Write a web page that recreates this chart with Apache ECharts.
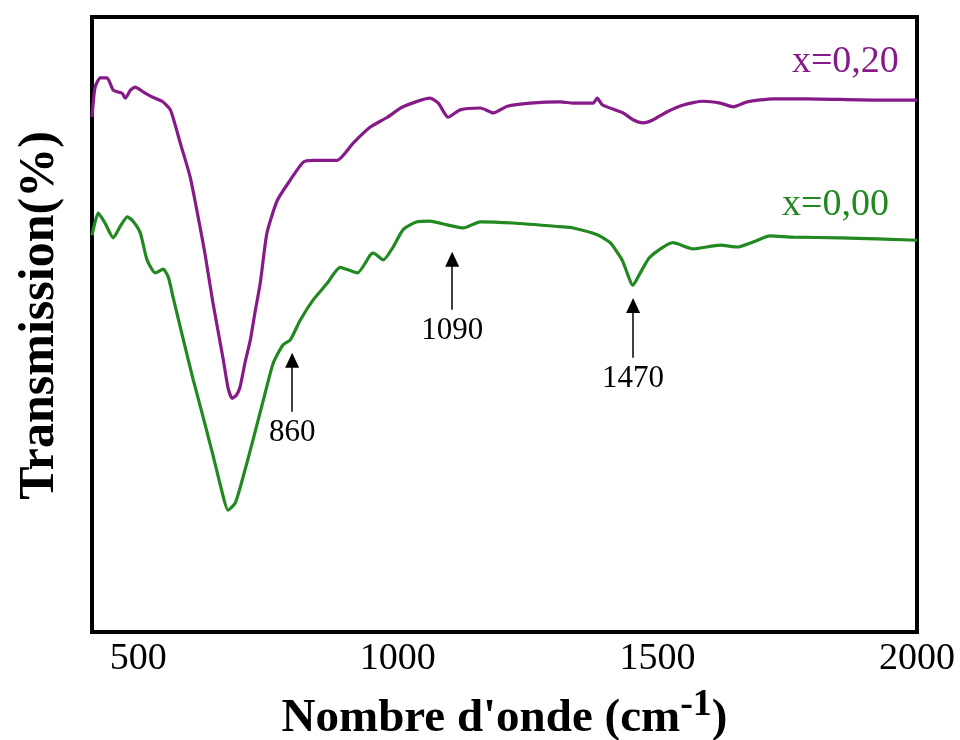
<!DOCTYPE html>
<html>
<head>
<meta charset="utf-8">
<script src="https://cdn.jsdelivr.net/npm/echarts@6/dist/echarts.min.js"></script>
<style>html,body{margin:0;padding:0;background:#fff}#c{width:960px;height:740px}</style>
</head>
<body>
<div id="c"></div>
<script>
// x = 0,20 sample (purple)
const wn020 = [411,417,427,440,452,469,475,485,494,510,527,546,562,581,600,619,629,644,664,673,681,689,696,706,716,725,735,748,768,793,818,837,883,914,947,980,1010,1062,1078,1097,1120,1159,1184,1211,1255,1313,1338,1376,1384,1394,1434,1453,1473,1492,1519,1550,1588,1621,1646,1673,1723,1788,1915,2000];
const tr020 = [83.7,88.6,90.1,90.1,88.1,87.6,86.8,88.1,88.6,87.8,87.0,86.3,84.9,79.5,74.0,65.9,61.3,53.5,44.2,39.7,38.0,38.5,39.8,43.9,47.5,52.0,56.7,64.9,70.2,73.5,76.4,76.7,76.7,79.5,82.1,83.7,85.4,86.8,86.0,83.7,84.9,85.2,84.4,85.5,86.0,86.2,86.0,86.0,86.8,85.7,84.4,83.3,82.8,83.3,84.6,85.7,86.3,86.0,85.4,86.2,86.7,86.7,86.5,86.5];
// x = 0,00 sample (green)
const wn000 = [411,423,436,452,465,479,490,504,517,533,548,558,567,587,606,623,643,662,673,687,702,721,741,760,779,793,812,837,864,889,922,947,953,972,991,1010,1037,1062,1095,1126,1159,1222,1313,1338,1384,1409,1432,1453,1467,1486,1530,1569,1621,1654,1684,1717,1761,1852,2000];
const tr000 = [64.5,68.1,66.5,64.1,65.9,67.5,66.8,64.9,60.5,58.4,59.0,57.7,54.5,47.5,41.0,35.6,29.1,22.6,19.8,21.0,25.2,31.2,37.7,43.7,46.7,47.5,50.7,54.0,56.7,59.3,58.4,61.3,61.6,60.5,62.6,65.4,66.7,66.8,66.2,65.7,66.7,66.5,65.9,65.7,64.6,63.3,60.5,56.4,58.4,61.0,63.3,62.3,62.9,62.6,63.4,64.4,64.2,64.1,63.7];
// x-axis tick labels
const xTicks = [500, 1000, 1500, 2000];
// peak annotations: label, wavenumber position, arrow base and tip (transmission units)
const annLabels = ['860', '1090', '1470'];
const annX = [796.5, 1104.7, 1453.2];
const annBase = [35.8, 52.4, 44.6];
const annTip = [44.2, 60.6, 53.1];
// series names and label anchor positions (data units)
const seriesNames = ['x=0,20', 'x=0,00'];
const nameX = [1862, 1843];
const nameY = [92.6, 69.4];

const purple = '#861a88';
const green = '#21891f';
const serif = '"Liberation Serif", "Times New Roman", serif';

const zip = (a, b) => a.map((v, i) => [v, b[i]]);

const chart = echarts.init(document.getElementById('c'), null, {renderer: 'canvas'});
chart.setOption({
  animation: false,
  backgroundColor: '#fff',
  grid: {left: 92, right: 43, top: 17, bottom: 108, show: true, borderColor: '#000', borderWidth: 4, backgroundColor: 'transparent', containLabel: false, outerBoundsMode: 'none'},
  xAxis: {
    type: 'value', min: 411, max: 2000,
    axisLine: {show: false}, axisTick: {show: false}, splitLine: {show: false},
    axisLabel: {customValues: xTicks, formatter: v => String(v), fontFamily: serif, fontSize: 38, color: '#000', margin: 8},
    name: '{a|Nombre d\'onde (cm}{s|-1}{a|)}',
    nameLocation: 'middle', nameGap: 54,
    nameTextStyle: {
      rich: {
        a: {fontFamily: serif, fontSize: 47, fontWeight: 'bold', color: '#000', lineHeight: 56, verticalAlign: 'bottom'},
        s: {fontFamily: serif, fontSize: 38, fontWeight: 'bold', color: '#000', verticalAlign: 'top', lineHeight: 38}
      }
    }
  },
  yAxis: {
    type: 'value', min: 0, max: 100,
    axisLine: {show: false}, axisTick: {show: false}, splitLine: {show: false}, axisLabel: {show: false},
    name: 'Transmission(%)', nameLocation: 'middle', nameGap: 27, nameRotate: 90,
    nameTextStyle: {fontFamily: serif, fontSize: 50, fontWeight: 'bold', color: '#000', padding: [0, 0, 0, 18]}
  },
  series: [
    {
      name: seriesNames[0], type: 'line', data: zip(wn020, tr020), showSymbol: false, smooth: 0.2,
      lineStyle: {color: purple, width: 3.2}, itemStyle: {color: purple},
      markPoint: {
        symbolSize: 0, silent: true,
        data: [{coord: [nameX[0], nameY[0]], value: seriesNames[0]}],
        label: {show: true, position: 'inside', formatter: seriesNames[0], fontFamily: serif, fontSize: 38, color: purple}
      }
    },
    {
      name: seriesNames[1], type: 'line', data: zip(wn000, tr000), showSymbol: false, smooth: 0.2,
      lineStyle: {color: green, width: 3.2}, itemStyle: {color: green},
      markPoint: {
        symbolSize: 0, silent: true,
        data: [{coord: [nameX[1], nameY[1]], value: seriesNames[1]}],
        label: {show: true, position: 'inside', formatter: seriesNames[1], fontFamily: serif, fontSize: 38, color: green}
      },
      markLine: {
        silent: true, animation: false,
        symbol: ['none', 'triangle'], symbolSize: [14, 15],
        lineStyle: {color: '#000', width: 1.5, type: 'solid'},
        label: {show: true, position: 'start', distance: 6, fontFamily: serif, fontSize: 31, color: '#000', formatter: p => p.name},
        data: annLabels.map((l, i) => [
          {name: l, coord: [annX[i], annBase[i]]},
          {coord: [annX[i], annTip[i]]}
        ])
      }
    }
  ]
});
</script>
</body>
</html>
